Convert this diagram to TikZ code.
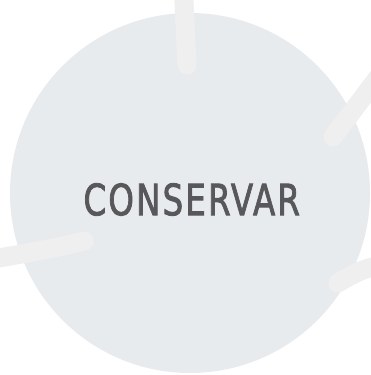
\documentclass[tikz,border=0pt]{standalone}
\usepackage{fontspec}
\setmainfont{DejaVu Sans Condensed}
\newfontfamily\lblfont[FakeBold=2,LetterSpace=6]{DejaVu Sans Condensed}
\definecolor{circ}{HTML}{E8EBEE}
\definecolor{ray}{HTML}{EFEFEF}
\definecolor{txt}{HTML}{58585A}
\begin{document}
\begin{tikzpicture}[x=1pt,y=-1pt,
  raystyle/.style={draw=ray,line width=19pt,line cap=round}]
\useasboundingbox (0,0) rectangle (370,375);
\fill[white] (0,0) rectangle (370,375);
\node[circle,fill=circ,minimum size=360pt,inner sep=0pt] (c) at (190,193) {};
\coordinate (t1) at (183,-20);
\coordinate (t2) at (187,65);
\coordinate (r1) at (385,68);
\coordinate (r2) at (333,137);
\coordinate (l1) at (-20,261);
\coordinate (l2) at (84,241);
\coordinate (b1) at (390,264);
\coordinate (b2) at (338,283);
\draw[raystyle] (t1) -- (t2);
\draw[raystyle] (r1) -- (r2);
\draw[raystyle] (l1) .. controls (30,253) and (60,247) .. (l2);
\draw[raystyle] (b1) .. controls (365,266) and (350,276) .. (b2);
\node[text=txt,inner sep=0pt] (lbl) at (190.5,199.5) {\resizebox{214pt}{32pt}{\lblfont CONSERVAR\kern-0.7pt}};
\end{tikzpicture}
\end{document}
